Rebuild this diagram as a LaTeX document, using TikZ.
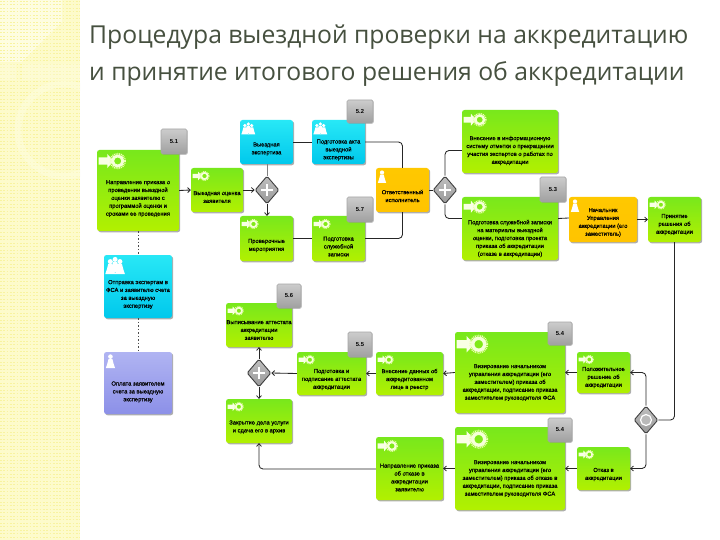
\documentclass[tikz,border=0pt]{standalone}
\usepackage{fontspec}
\setmainfont{Liberation Sans}
\newfontfamily\titlefont{Open Sans}
\newfontfamily\boxfont[FakeBold=0.5]{Liberation Sans}
\usetikzlibrary{shapes.geometric,shadows,arrows.meta}
\definecolor{stripbg}{HTML}{FDFBCB}
\definecolor{stripdot}{HTML}{F8F3A0}
\definecolor{stripsoft}{HTML}{FEFDE0}
\definecolor{titlecol}{HTML}{46503F}
\definecolor{gtop}{HTML}{78E81C}
\definecolor{gmid}{HTML}{98F00C}
\definecolor{gbot}{HTML}{B2F000}
\definecolor{ytop}{HTML}{FFC800}
\definecolor{ymid}{HTML}{FFE400}
\definecolor{ybot}{HTML}{FFC400}
\definecolor{ctop}{HTML}{28E8F6}
\definecolor{cmid}{HTML}{12E0F4}
\definecolor{cbot}{HTML}{00C8EC}
\definecolor{ptop}{HTML}{B0B4F2}
\definecolor{pmid}{HTML}{9CA0F0}
\definecolor{pbot}{HTML}{8C90E8}
\tikzset{
 basebox/.style={rectangle,rounded corners=2.5pt,inner sep=0pt,drop shadow={shadow xshift=1.2pt,shadow yshift=-1.3pt,opacity=.45,fill=black!70}},
 gbox/.style={basebox,top color=gtop,middle color=gmid,bottom color=gbot},
 cbox/.style={basebox,top color=ctop,middle color=cmid,bottom color=cbot},
 ybox/.style={basebox,top color=ytop,middle color=ymid,bottom color=ybot},
 pbox/.style={basebox,top color=ptop,middle color=pmid,bottom color=pbot},
 txt/.style={align=center,font=\boxfont\fontsize{5.8}{7.9}\selectfont,text=black,inner sep=0pt},
 badge/.style={rectangle,rounded corners=1.5pt,inner sep=0pt,top color=gray!40,bottom color=gray!75,draw=gray!70,line width=.7pt,font=\fontsize{5.8}{6}\selectfont\bfseries,text=black,drop shadow={shadow xshift=.8pt,shadow yshift=-.8pt,opacity=.35}},
 gate/.style={diamond,inner sep=0pt,minimum width=24pt,minimum height=28pt,top color=gray!50,bottom color=gray!80,draw=black!75,line width=.9pt,rounded corners=1.5pt},
 conn/.style={draw=black!85,line width=.85pt,rounded corners=4pt},
 arr/.style={conn,-{Straight Barb[length=2.6pt,width=5pt]}},
 dots/.style={draw=black!70,line width=.7pt,dash pattern=on 1.5pt off 2pt}
}
\newcommand{\icongbox}[3]{\begin{scope}[shift={(#1,#2)},scale=#3]
 \fill[white!90!lime] (0,2.8)--(5.5,2.8)--(5.5,.6)--(9.5,5)--(5.5,9.4)--(5.5,7.2)--(0,7.2)--cycle;
 \draw[white!85!lime,line width=1.8pt*#3] (12,5) circle (3.2);
 \draw[white!70!lime,line width=1.1pt*#3,dash pattern=on .9pt off .9pt] (12,5) circle (4.6);
\end{scope}}
\newcommand{\personshape}[2]{\fill[white] (#1,#2) circle (2.1);
 \fill[white] (#1-1.8,#2+2.2) .. controls (#1-2.6,#2+6) and (#1-3.4,#2+8) .. (#1-4.2,#2+10.5)--(#1+4.2,#2+10.5) .. controls (#1+3.4,#2+8) and (#1+2.6,#2+6) .. (#1+1.8,#2+2.2)--cycle;}
\newcommand{\iconcbox}[3]{\begin{scope}[shift={(#1,#2)},scale=#3]
 \personshape{4}{3}\personshape{8}{1.2}\personshape{12}{3}
\end{scope}}
\newcommand{\iconybox}[3]{\begin{scope}[shift={(#1,#2)},scale=#3]\personshape{4.5}{1.5}\end{scope}}
\newcommand{\iconpbox}[3]{\begin{scope}[shift={(#1,#2)},scale=#3]\personshape{4.5}{1.5}\end{scope}}
% name, style, x1, y1, x2, y2, text shift, icon scale, text
\newcommand{\tbox}[9]{%
 \pgfmathsetmacro\bw{#5-#3}\pgfmathsetmacro\bh{#6-#4}%
 \pgfmathsetmacro\bx{(#3+#5)/2}\pgfmathsetmacro\by{(#4+#6)/2}%
 \node[#2,minimum width=\bw pt,minimum height=\bh pt] (#1) at (\bx,\by) {};%
 \csname icon#2\endcsname{#3+1.5}{#4+3}{#8}%
 \node[txt] (#1-t) at (\bx,\by+#7) {#9};}
\newcommand{\bdg}[6]{%
 \pgfmathsetmacro\bw{#4-#2}\pgfmathsetmacro\bh{#5-#3}%
 \node[badge,minimum width=\bw pt,minimum height=\bh pt] (#1) at ({(#2+#4)/2},{(#3+#5)/2}) {\raisebox{-3pt}{#6}};}
\newcommand{\plusmark}[1]{\draw[white,line width=1.7pt] ([xshift=-6pt]#1.center)--([xshift=6pt]#1.center) ([yshift=-6pt]#1.center)--([yshift=6pt]#1.center);}
\begin{document}
\begin{tikzpicture}[x=1pt,y=-1pt]
\useasboundingbox (0,0) rectangle (720,540);
\fill[white] (0,0) rectangle (720,540);
% decorated strip
\fill[stripbg] (0,0) rectangle (80,540);
\fill[stripsoft] (0,0)--(62,0)--(62,22)--(22,62)--(0,62)--cycle;
\foreach \r in {1.5,5,...,540}{\draw[stripdot,line width=1pt,dash pattern=on 1.7pt off 1.6pt] (0,\r)--(80,\r);}
\begin{scope}
\clip (0,0) rectangle (80,540);
\draw[stripsoft,opacity=.5,line width=7pt] (64,130) circle (46);
\fill[stripsoft,opacity=.4] (0,64) rectangle (16,80);
\fill[stripsoft,opacity=.4] (22,64) rectangle (80,80);
\end{scope}
% title
\node[anchor=base west,inner sep=0pt,font=\titlefont\fontsize{24.7}{28}\selectfont,text=titlecol] (title1) at (89,44) {Процедура выездной проверки на аккредитацию};
\node[anchor=base west,inner sep=0pt,font=\titlefont\fontsize{24.7}{28}\selectfont,text=titlecol] (title2) at (89,81) {и принятие итогового решения об аккредитации};
% boxes
\tbox{a1}{gbox}{97}{150}{179}{231}{8}{1.6}{Направление приказа о\\проведении выездной\\оценки заявителю с\\программой оценки и\\сроками ее проведения}
\tbox{oc}{gbox}{191}{168}{243}{212}{7}{1}{Выездная оценка\\заявителя}
\tbox{vy}{cbox}{240}{120}{293}{164}{7}{.85}{Выездная\\экспертиза}
\tbox{pr}{gbox}{240}{216}{293}{261}{7}{1}{Проверочные\\мероприятия}
\tbox{ak}{cbox}{312}{120}{365}{164}{8}{.85}{Подготовка акта\\выездной\\экспертизы}
\tbox{sl}{gbox}{312}{216}{365}{261}{8}{1}{Подготовка\\служебной\\записки}
\tbox{ot}{ybox}{376}{168}{429}{212}{6}{1}{Ответственный\\исполнитель}
\tbox{vn}{gbox}{462}{110}{558}{173}{9}{1.35}{Внесение в информационную\\систему отметки о прекращении\\участия экспертов о работах по\\аккредитации}
\tbox{po}{gbox}{462}{197}{558}{260}{10}{1.35}{Подготовка служебной записки\\на материалы выездной\\оценки, подготовка проекта\\приказа об аккредитации\\(отказе в аккредитации)}
\tbox{na}{ybox}{569}{197}{637}{242}{3}{1}{Начальник\\Управления\\аккредитации (его\\заместитель)}
\tbox{pn}{gbox}{648}{197}{701}{242}{5}{.95}{Принятие\\решения об\\аккредитации}
\tbox{pl}{gbox}{577}{352}{630}{393}{5}{.9}{Положительное\\решение об\\аккредитации}
\tbox{ok}{gbox}{577}{447}{630}{490}{6}{.9}{Отказ в\\аккредитации}
\tbox{va}{gbox}{455}{332}{565}{413}{10}{1.85}{Визирование начальником\\управления аккредитации (его\\заместителем) приказа об\\аккредитации, подписание приказа\\заместителем руководителя ФСА}
\tbox{vb}{gbox}{455}{427}{565}{510}{10}{1.85}{Визирование начальником\\управления аккредитации (его\\заместителем) приказа об отказе в\\аккредитации, подписание приказа\\заместителем руководителя ФСА}
\tbox{dn}{gbox}{376}{352}{443}{395}{6}{.95}{Внесение данных об\\аккредитованном\\лице в реестр}
\tbox{pa}{gbox}{297}{352}{366}{395}{6}{.95}{Подготовка и\\подписание аттестата\\аккредитации}
\tbox{vp}{gbox}{226}{303}{292}{347}{5}{.95}{Выписывание аттестата\\аккредитации\\заявителю}
\tbox{zk}{gbox}{226}{399}{292}{443}{6}{.95}{Закрытие дела услуги\\и сдача его в архив}
\tbox{nz}{gbox}{376}{437}{443}{500}{9}{1.2}{Направление приказа\\об отказе в\\аккредитации\\заявителю}
\tbox{ce}{cbox}{104}{255}{172}{318}{8}{1.2}{Отправка экспертам в\\ФСА и заявителю счета\\за выездную\\экспертизу}
\tbox{op}{pbox}{104}{352}{172}{414}{9}{1.1}{Оплата заявителем\\счета за выездную\\экспертизу}
% badges
\bdg{b1}{161}{129}{187}{154}{5.1}
\bdg{b2}{347}{100}{373}{123}{5.2}
\bdg{b7}{347}{197}{373}{222}{5.7}
\bdg{b3}{540}{177}{566}{202}{5.3}
\bdg{b4a}{548}{322}{572}{345}{5.4}
\bdg{b4b}{548}{418}{572}{442}{5.4}
\bdg{b5}{348}{332}{372}{357}{5.5}
\bdg{b6}{277}{284}{301}{308}{5.6}
% gateways
\node[gate] (g1) at (267,190) {};
\node[gate] (g2) at (445,190) {};
\node[gate] (g3) at (646,420) {};
\node[gate] (g4) at (259,373) {};
\plusmark{g1}\plusmark{g2}\plusmark{g4}
\draw[white,line width=1.2pt,fill=gray!55] (g3.center) circle (5.5pt);
% connectors
\draw[arr] (a1.east)--(oc.west);
\draw[arr] (oc.east)--(g1.west);
\draw[conn,draw=gray] (g1.north)--(g1.north|-vy.south);
\draw[arr] (g1.south)--(g1.south|-pr.north);
\draw[conn] (vy.east)--(ak.west);
\draw[conn] (pr.east)--(sl.west);
\draw[conn] (ak.east)-|(ot.north);
\draw[conn] (sl.east)-|(ot.south);
\draw[conn] (ot.east)--(g2.west);
\draw[conn] (g2.north)|-([yshift=-9pt]vn.west);
\draw[conn] (g2.south)|-([yshift=10pt]po.west);
\draw[conn] ([yshift=10pt]po.east)--([yshift=1.5pt]na.west);
\draw[arr] (na.east)--(pn.west);
\draw[conn] (pn.south)|-(g3.east);
\draw[arr] (g3.north)|-(pl.east);
\draw[arr] (g3.south)|-(ok.east);
\draw[arr] (pl.west)--(va.east);
\draw[arr] (ok.west)--(vb.east);
\draw[arr] (va.west)--(dn.east);
\draw[arr] (vb.west)--(vb.west-|nz.east);
\draw[arr] (dn.west)--(pa.east);
\draw[arr] (pa.west)--(g4.east);
\draw[arr] (g4.north)--(vp.south);
\draw[arr] (g4.south)--(zk.north);
\draw[arr] ([yshift=-.5pt]nz.west)-|(zk.south);
\draw[dots] (a1.south)--(ce.north);
\draw[dots] (ce.south)--(op.north);
\end{tikzpicture}
\end{document}
